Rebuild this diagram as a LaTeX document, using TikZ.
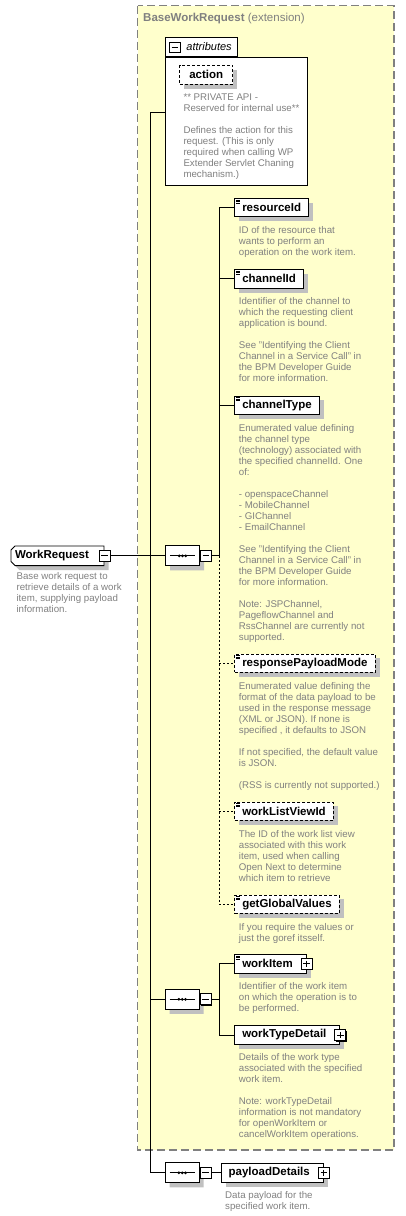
\documentclass[tikz,border=0pt]{standalone}
\usepackage{fontspec}
\setmainfont{Liberation Sans}
\usetikzlibrary{positioning,shapes.misc,shadows}
\definecolor{my yellow}{HTML}{FFFFCC}
\definecolor{my gray}{HTML}{808080}
\definecolor{my shadow}{HTML}{C0C0C0}
\newcommand{\descfont}{\fontsize{9.7}{11}\selectfont}
\newcommand{\elemfont}{\fontsize{11.5}{13}\selectfont\bfseries}
\tikzset{
  conn/.style={line width=0.9pt},
  optconn/.style={conn, dash pattern=on 2pt off 2pt},
  grayshadow/.style={drop shadow={shadow xshift=4.5pt, shadow yshift=-4.5pt, fill=my shadow, opacity=1}},
  elem/.style={draw, fill=white, line width=0.9pt, anchor=west, minimum height=18.5pt, inner xsep=7.5pt, inner ysep=0pt, font=\elemfont, grayshadow},
  optelem/.style={elem, dash pattern=on 3pt off 2pt},
  docelem/.style={path picture={\foreach \k in {0,1,2} \draw[solid, line width=0.6pt] ([shift={(1pt,{-1.8pt-1.4pt*\k})}]path picture bounding box.north west) -- ++(4.5pt,0pt);}},
  pluselem/.style={execute at end node={\hspace*{6pt}}},
  desc/.style={inner sep=0pt, align=left, font=\descfont, text=my gray},
  toggle/.style={draw, solid, fill=white, line width=0.9pt, minimum size=11pt, inner sep=0pt, drop shadow={shadow xshift=1pt, shadow yshift=-1pt, fill=black, opacity=1}},
  minus/.style={toggle, path picture={\draw[line width=0.9pt] ([xshift=2.3pt]path picture bounding box.west) -- ([xshift=-2.3pt]path picture bounding box.east);}},
  plus/.style={toggle, path picture={\draw[line width=0.9pt] ([xshift=2.3pt]path picture bounding box.west) -- ([xshift=-2.3pt]path picture bounding box.east) ([yshift=-2.3pt]path picture bounding box.north) -- ([yshift=2.3pt]path picture bounding box.south);}},
  seqbox/.style={chamfered rectangle, chamfered rectangle xsep=4.5pt, chamfered rectangle ysep=4.5pt, draw, fill=white, line width=0.9pt, minimum width=34pt, minimum height=20pt, inner sep=0pt, grayshadow, path picture={\draw[line width=0.9pt] ([xshift=4.5pt]path picture bounding box.west) -- ([xshift=-4.5pt]path picture bounding box.east); \foreach \d in {-3.3,0,3.3} \fill[black] ([xshift=\d pt]path picture bounding box.center) circle[radius=1.5pt];}}
}
\begin{document}
\begin{tikzpicture}[x=1pt, y=-1pt]
  \useasboundingbox (0,0) rectangle (405,1216);
  \draw [my gray, fill=my yellow, line width=1.1pt, dash pattern=on 8pt off 4pt] (137.5,5.7) rectangle (394,1150);
  \node [anchor=west, inner sep=0pt, text=my gray, font=\fontsize{11.5}{13}\selectfont] (base) at (143,19) {\textbf{BaseWorkRequest} (extension)};

  \node [draw, fill=white, line width=0.9pt, anchor=north west, minimum width=141.4pt, minimum height=128.3pt] (attrs) at (165.3,56.7) {};
  \node [draw, fill=white, line width=0.9pt, anchor=south west, minimum height=18.4pt, inner xsep=5.3pt, inner ysep=0pt, font=\fontsize{11}{13}\selectfont\itshape] (attrtab) at (attrs.north west) {\hspace*{15.4pt}attributes};
  \node [draw, line width=0.9pt, minimum size=10.7pt, inner sep=0pt, path picture={\draw[line width=0.9pt] ([xshift=2.2pt]path picture bounding box.west) -- ([xshift=-2.2pt]path picture bounding box.east);}] (attrtog) at (174.7,47.3) {};
  \node [optelem, inner xsep=9.5pt, minimum height=19.3pt] (action) at (179.3,74.7) {action};
  \node [desc, below right=9pt and 4pt of action.south west] (actiondesc) {** PRIVATE API -\\Reserved for internal use**\\[11pt]Defines the action for this\\request. (This is only\\required when calling WP\\Extender Servlet Chaning\\mechanism.)};

  \node [elem, docelem] (resid) at (234.3,207.5) {resourceId};
  \node [desc, below right=9pt and 4.4pt of resid.south west] (residdesc) {ID of the resource that\\wants to perform an\\operation on the work item.};
  \node [elem, docelem] (chanid) at (234.3,278.8) {channelId};
  \node [desc, below right=9pt and 4.4pt of chanid.south west] (chaniddesc) {Identifier of the channel to\\which the requesting client\\application is bound.\\[11pt]See "Identifying the Client\\Channel in a Service Call" in\\the BPM Developer Guide\\for more information.};
  \node [elem, docelem] (chantype) at (234.3,405.2) {channelType};
  \node [desc, below right=9pt and 4.4pt of chantype.south west] (chantypedesc) {Enumerated value defining\\the channel type\\(technology) associated with\\the specified channelId. One\\of:\\[11pt]- openspaceChannel\\- MobileChannel\\- GIChannel\\- EmailChannel\\[11pt]See "Identifying the Client\\Channel in a Service Call" in\\the BPM Developer Guide\\for more information.\\[11pt]Note: JSPChannel,\\PageflowChannel and\\RssChannel are currently not\\supported.};
  \node [optelem, docelem] (respmode) at (234.3,663.2) {responsePayloadMode};
  \node [desc, below right=9pt and 4.4pt of respmode.south west] (respmodedesc) {Enumerated value defining the\\format of the data payload to be\\used in the response message\\(XML or JSON). If none is\\specified , it defaults to JSON\\[11pt]If not specified, the default value\\is JSON.\\[11pt](RSS is currently not supported.)};
  \node [optelem, docelem] (listview) at (234.3,811.2) {workListViewId};
  \node [desc, below right=9pt and 4.4pt of listview.south west] (listviewdesc) {The ID of the work list view\\associated with this work\\item, used when calling\\Open Next to determine\\which item to retrieve};
  \node [optelem, docelem] (global) at (234.3,904.2) {getGlobalValues};
  \node [desc, below right=9pt and 4.4pt of global.south west] (globaldesc) {If you require the values or\\just the goref itsself.};

  \node [elem, docelem, pluselem] (workitem) at (234.3,963.8) {workItem};
  \node [plus] (workitemtog) at (workitem.east) {};
  \node [desc, below right=9pt and 4.4pt of workitem.south west] (workitemdesc) {Identifier of the work item\\on which the operation is to\\be performed.};
  \node [elem, pluselem] (worktype) at (234.3,1035) {workTypeDetail};
  \node [plus] (worktypetog) at (worktype.east) {};
  \node [desc, below right=9pt and 4.4pt of worktype.south west] (worktypedesc) {Details of the work type\\associated with the specified\\work item.\\[11pt]Note: workTypeDetail\\information is not mandatory\\for openWorkItem or\\cancelWorkItem operations.};

  \node [elem, pluselem] (payload) at (220.7,1172.8) {payloadDetails};
  \node [plus] (payloadtog) at (payload.east) {};
  \node [desc, below right=9pt and 4.3pt of payload.south west] (payloaddesc) {Data payload for the\\specified work item.};

  \node [chamfered rectangle, chamfered rectangle corners={north west, south west}, chamfered rectangle xsep=2pt, chamfered rectangle ysep=2pt, draw, fill=white, line width=0.9pt, minimum width=93pt, minimum height=19.6pt, inner xsep=0pt, inner ysep=0pt, font=\elemfont, grayshadow] (wr) at (57.5,555.8) {WorkRequest\hspace*{11pt}};
  \node [minus] (wrtog) at (wr.east) {};
  \node [desc, below right=8pt and 3.7pt of wr.south west] (wrdesc) {Base work request to\\retrieve details of a work\\item, supplying payload\\information.};

  \node [seqbox] (seq1) at (182.5,555.8) {};
  \node [minus, anchor=west] (seq1tog) at (seq1.east) {};
  \node [seqbox] (seq2) at (182.2,999.3) {};
  \node [minus, anchor=west] (seq2tog) at (seq2.east) {};
  \node [seqbox] (seq3) at (182.2,1172.8) {};
  \node [minus, anchor=west] (seq3tog) at (seq3.east) {};

  \coordinate (spine) at (150.7,112.7);
  \coordinate (fork1) at (219.3,555.8);
  \coordinate (fork2) at (219.3,999.3);
  \draw [conn] (attrs.west |- spine) -- (spine) |- (seq3.west);
  \draw [conn] (spine |- seq2) -- (seq2.west);
  \draw [conn] (wrtog.east) -- (seq1.west);
  \draw [conn] (seq1tog.east) -- (fork1) |- (resid.west);
  \draw [conn] (fork1 |- chanid) -- (chanid.west);
  \draw [conn] (fork1 |- chantype) -- (chantype.west);
  \draw [optconn] (fork1) |- (global.west);
  \draw [optconn] (fork1 |- respmode) -- (respmode.west);
  \draw [optconn] (fork1 |- listview) -- (listview.west);
  \draw [conn] (seq2tog.east) -- (fork2);
  \draw [conn] (workitem.west) -| (fork2) |- (worktype.west);
  \draw [conn] (seq3tog.east) -- (payload.west);
\end{tikzpicture}
\end{document}
